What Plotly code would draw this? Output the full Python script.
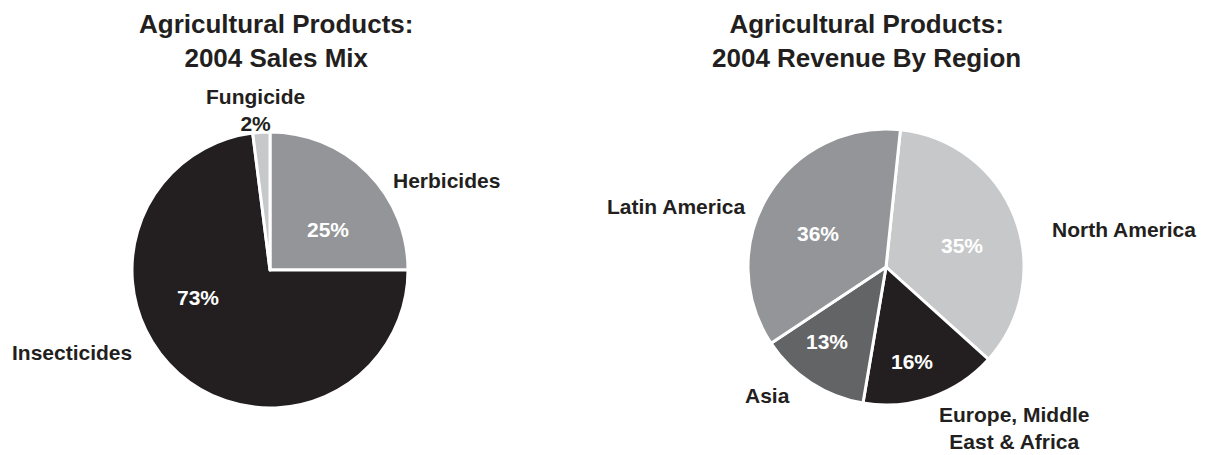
import plotly.graph_objects as go

# ---- data ----
mix_labels = ["Herbicides", "Insecticides", "Fungicide"]
mix_values = [25, 73, 2]
mix_colors = ["#939598", "#231f20", "#c7c8ca"]

region_labels = ["North America", "Europe, Middle<br>East & Africa", "Asia", "Latin America"]
region_values = [35, 16, 13, 36]
region_colors = ["#c7c8ca", "#231f20", "#636466", "#939598"]

titles = ["Agricultural Products:<br>2004 Sales Mix",
          "Agricultural Products:<br>2004 Revenue By Region"]

W, H = 1208, 455
FONT = "Liberation Sans, Arial, Helvetica, sans-serif"
DARK = "#231f20"


def px(x):
    return x / W


def py(y):
    return 1 - y / H


fig = go.Figure()

fig.add_trace(go.Pie(
    labels=mix_labels, values=mix_values, sort=False, direction="clockwise",
    rotation=0, textinfo="none", hoverinfo="label+percent",
    marker=dict(colors=mix_colors, line=dict(color="white", width=3)),
    domain=dict(x=[px(132), px(408)], y=[py(408), py(132)]),
    showlegend=False,
))

fig.add_trace(go.Pie(
    labels=region_labels, values=region_values, sort=False, direction="clockwise",
    rotation=6, textinfo="none", hoverinfo="label+percent",
    marker=dict(colors=region_colors, line=dict(color="white", width=3)),
    domain=dict(x=[px(748), px(1024)], y=[py(405), py(129)]),
    showlegend=False,
))

annotations = []


def add(text, x, y, size, color=DARK):
    annotations.append(dict(
        text=text, x=px(x), y=py(y), xref="paper", yref="paper",
        showarrow=False, xanchor="center", yanchor="middle",
        font=dict(family=FONT, size=size, color=color), align="center",
    ))


# titles
add("<b>%s</b>" % titles[0], 276, 41, 26)
add("<b>%s</b>" % titles[1], 866, 41, 26)

# left pie outside labels
add("<b>%s</b>" % mix_labels[0], 446, 181, 21)
add("<b>%s</b>" % mix_labels[1], 72, 352, 21)
add("<b>%s<br>%d%%</b>" % (mix_labels[2], mix_values[2]), 255, 110, 21)
# left pie inside labels
add("<b>%d%%</b>" % mix_values[0], 328, 229, 21, "white")
add("<b>%d%%</b>" % mix_values[1], 198, 297, 21, "white")

# right pie outside labels
add("<b>%s</b>" % region_labels[3], 676, 207, 21)
add("<b>%s</b>" % region_labels[0], 1124, 229, 21)
add("<b>%s</b>" % region_labels[2], 767, 395, 21)
add("<b>%s</b>" % region_labels[1], 1014, 428, 21)
# right pie inside labels
add("<b>%d%%</b>" % region_values[3], 818, 234, 21, "white")
add("<b>%d%%</b>" % region_values[0], 962, 245, 21, "white")
add("<b>%d%%</b>" % region_values[2], 827, 341, 21, "white")
add("<b>%d%%</b>" % region_values[1], 912, 361, 21, "white")

fig.update_layout(
    width=W, height=H, margin=dict(l=0, r=0, t=0, b=0),
    paper_bgcolor="white", plot_bgcolor="white",
    annotations=annotations,
)

fig.write_html(
    "out.html",
    config={"displayModeBar": False},
    post_script="document.body.style.margin='0';document.body.style.overflow='hidden';",
)
